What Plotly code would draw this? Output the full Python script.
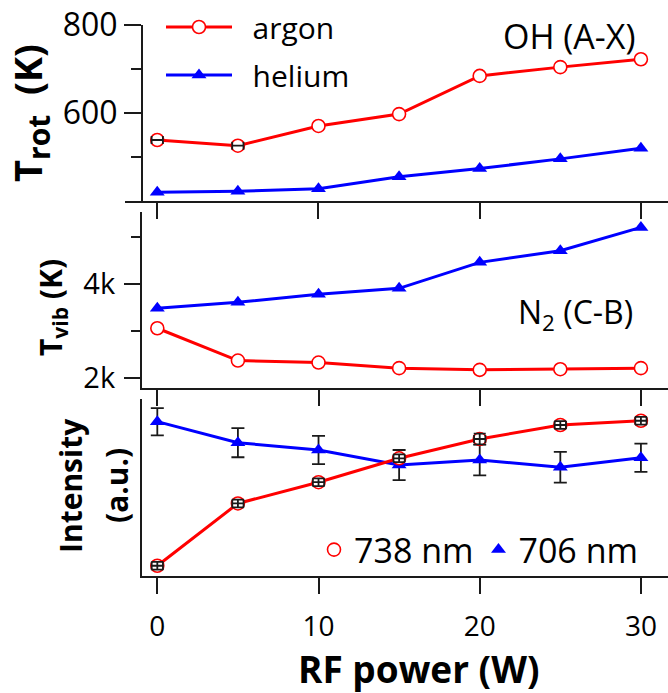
import plotly.graph_objects as go

W, H = 668, 693
RED, BLUE, INK = "#FF0000", "#0000FF", "#1a1a1a"
FONT = "Open Sans"

power = [0, 5, 10, 15, 20, 25, 30]

# OH (A-X) rotational temperature (K)
ar_rot = [538, 525, 570, 597, 684, 704, 722]
he_rot = [419, 421, 427, 454, 473, 495, 519]
ar_rot_xerr = [0.35, 0.35]  # only the first two points show bars

# N2 (C-B) vibrational temperature (K)
ar_vib = [3060, 2373, 2331, 2212, 2176, 2190, 2212]
he_vib = [3484, 3610, 3780, 3908, 4460, 4707, 5203]

# line intensities (a.u.)
ar_int = [0.058, 0.41, 0.53, 0.665, 0.774, 0.853, 0.877]
ar_int_err = [0.022, 0.022, 0.022, 0.022, 0.03, 0.022, 0.022]
ar_int_xerr = [0.35, 0.35, 0.35, 0.35, 0.35, 0.35, 0.35]
he_int = [0.872, 0.753, 0.712, 0.627, 0.655, 0.614, 0.668]
he_int_err = [0.077, 0.082, 0.08, 0.085, 0.087, 0.087, 0.08]

xticks = [0, 10, 20, 30]


def px_x(p): return p / W
def px_y(p): return (H - p) / H


circ = dict(symbol="circle", size=13, color="white", line=dict(color=RED, width=1.6))
tri = dict(symbol="triangle-up", size=13, color=BLUE, line=dict(color=BLUE, width=0))
ln_r = dict(color=RED, width=3)
ln_b = dict(color=BLUE, width=3)
ebar = dict(color=INK, thickness=1.8)

fig = go.Figure()

# --- top: T_rot
fig.add_trace(go.Scatter(x=power, y=ar_rot, mode="lines+markers", name="  argon", line=ln_r, marker=circ,
                         xaxis="x", yaxis="y", legendgroup="ar"))
fig.add_trace(go.Scatter(x=power, y=he_rot, mode="lines+markers", name="  helium", line=ln_b, marker=tri,
                         xaxis="x", yaxis="y", legendgroup="he"))
fig.add_trace(go.Scatter(x=power[:2], y=ar_rot[:2], mode="markers", marker=dict(size=1, opacity=0),
                         error_x=dict(type="data", array=ar_rot_xerr, width=4, **ebar),
                         xaxis="x", yaxis="y", showlegend=False, hoverinfo="skip"))

# --- middle: T_vib
fig.add_trace(go.Scatter(x=power, y=he_vib, mode="lines+markers", line=ln_b, marker=tri,
                         xaxis="x2", yaxis="y2", showlegend=False))
fig.add_trace(go.Scatter(x=power, y=ar_vib, mode="lines+markers", line=ln_r, marker=circ,
                         xaxis="x2", yaxis="y2", showlegend=False))

# --- bottom: intensity
fig.add_trace(go.Scatter(x=power, y=he_int, mode="lines", line=ln_b,
                         xaxis="x3", yaxis="y3", showlegend=False))
fig.add_trace(go.Scatter(x=power, y=ar_int, mode="lines", line=ln_r,
                         xaxis="x3", yaxis="y3", showlegend=False))
fig.add_trace(go.Scatter(x=power, y=he_int, mode="markers", marker=dict(size=1, opacity=0),
                         error_y=dict(type="data", array=he_int_err, width=6.5, **ebar),
                         xaxis="x3", yaxis="y3", showlegend=False, hoverinfo="skip"))
fig.add_trace(go.Scatter(x=power, y=he_int, mode="markers", name="706 nm", marker=tri,
                         xaxis="x3", yaxis="y3", legend="legend2", legendrank=2))
fig.add_trace(go.Scatter(x=power, y=ar_int, mode="markers", name="738 nm", marker=circ,
                         xaxis="x3", yaxis="y3", legend="legend2", legendrank=1))
fig.add_trace(go.Scatter(x=power, y=ar_int, mode="markers", marker=dict(size=1, opacity=0),
                         error_y=dict(type="data", array=ar_int_err, width=6, **ebar),
                         error_x=dict(type="data", array=ar_int_xerr, width=4, **ebar),
                         xaxis="x3", yaxis="y3", showlegend=False, hoverinfo="skip"))

ax = dict(showline=True, linecolor=INK, linewidth=2, ticks="outside", tickcolor=INK, tickwidth=2,
          showgrid=False, zeroline=False, fixedrange=True, automargin=False)

fig.update_layout(
    width=W, height=H, margin=dict(l=0, r=0, t=0, b=0, autoexpand=False),
    paper_bgcolor="white", plot_bgcolor="white",
    font=dict(family=FONT, color="black"),
    xaxis=dict(**ax, domain=[px_x(125), 1], range=[-2, 31.68], anchor="y",
               tickvals=xticks, ticklen=16, showticklabels=False),
    yaxis=dict(**ax, domain=[px_y(201), px_y(25)], range=[399, 800], anchor="free", position=px_x(142),
               tickvals=[600, 800], ticklen=17, ticklabelstandoff=0,
               tickfont=dict(family=FONT, size=32, color="black"),
               minor=dict(tickvals=[500, 700], ticks="outside", ticklen=10, tickcolor=INK, tickwidth=2)),
    xaxis2=dict(**ax, domain=[px_x(142), 1], range=[-0.95, 31.68], anchor="y2",
                tickvals=xticks, ticklen=16, showticklabels=False),
    yaxis2=dict(**ax, domain=[px_y(388), px_y(212)], range=[1790, 5530], anchor="x2",
                tickvals=[2000, 4000], ticktext=["2k", "4k"], ticklen=16, ticklabelstandoff=3,
                tickfont=dict(family=FONT, size=29, color="black"),
                minor=dict(tickvals=[3000, 5000], ticks="outside", ticklen=9, tickcolor=INK, tickwidth=2)),
    xaxis3=dict(**ax, domain=[px_x(142), 1], range=[-0.95, 31.68], anchor="y3",
                tickvals=xticks, ticklen=16, ticklabelstandoff=8,
                tickfont=dict(family=FONT, size=28, color="black")),
    yaxis3=dict(**ax, domain=[px_y(576), px_y(399)], range=[0, 1], anchor="x3",
                showticklabels=False, ticklen=0, tickvals=[]),
    legend=dict(x=px_x(161), y=px_y(1), xanchor="left", yanchor="top", bgcolor="rgba(0,0,0,0)",
                font=dict(family=FONT, size=30), itemwidth=66, tracegroupgap=6),
    legend2=dict(orientation="h", x=px_x(314), y=px_y(550), xanchor="left", yanchor="middle",
                 bgcolor="rgba(0,0,0,0)", font=dict(family=FONT, size=34), itemwidth=30),
)

ann = [
    dict(text="T<sub><span style='font-size:30px'>rot</span></sub>  (K)", x=px_x(30), y=px_y(113),
         textangle=-90, size=38, weight=700),
    dict(text="T<sub>vib</sub> (K)", x=px_x(52), y=px_y(308), textangle=-90, size=30, weight=700),
    dict(text="Intensity", x=px_x(70), y=px_y(486), textangle=-90, size=30, weight=700),
    dict(text="(a.u.)", x=px_x(116), y=px_y(486), textangle=-90, size=30, weight=700),
    dict(text="RF power (W)", x=px_x(418), y=px_y(668), textangle=0, size=37, weight=700),
    dict(text="OH (A-X)", x=px_x(569), y=px_y(36), textangle=0, size=34, weight=400),
    dict(text="N<sub>2</sub> (C-B)", x=px_x(575), y=px_y(314), textangle=0, size=32, weight=400),
]
for a in ann:
    fig.add_annotation(text=a["text"], x=a["x"], y=a["y"], xref="paper", yref="paper",
                       xanchor="center", yanchor="middle", showarrow=False, textangle=a["textangle"],
                       font=dict(family=FONT, size=a["size"], weight=a["weight"], color="black"))

# the page's default body margin would push the figure 8 px off the window
fig.write_html("out.html", config={"displayModeBar": False},
               post_script="document.body.style.margin='0';")
